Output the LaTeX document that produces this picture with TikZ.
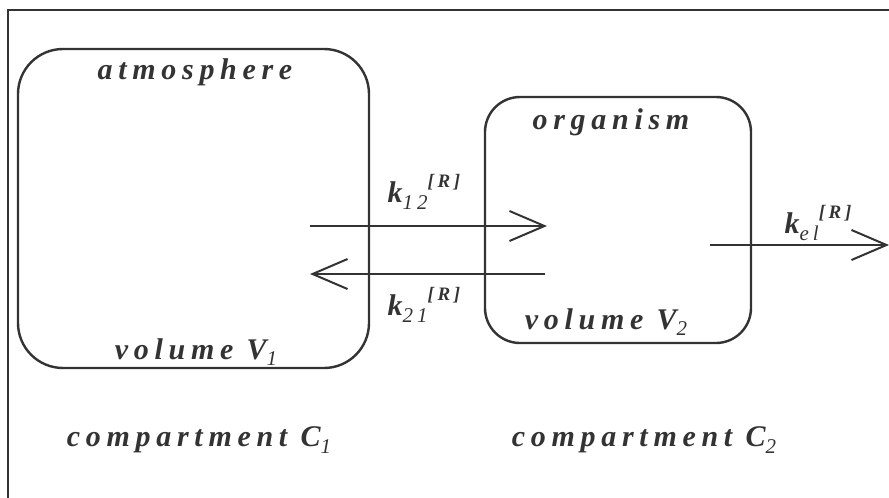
\documentclass[tikz,border=0pt]{standalone}
\usepackage{fontspec}
\setmainfont{Liberation Serif}
\newfontfamily\lblfont[LetterSpace=19]{Liberation Serif}
\usepackage{tikz}
\usetikzlibrary{positioning,calc,arrows.meta}
\definecolor{ink}{HTML}{333333}
\newcommand{\lo}[1]{\raisebox{-0.22em}{\fontsize{21}{21}\selectfont\mdseries #1}}
\newcommand{\hi}[1]{\raisebox{0.5em}{\fontsize{19}{19}\selectfont #1}}
\tikzset{
  comp/.style={draw=ink,line width=2.4pt,rounded corners=#1,inner sep=0pt},
  lbl/.style={text=ink,inner sep=0pt,font=\lblfont\fontsize{30}{32}\selectfont\bfseries\itshape},
  flow/.style={draw=ink,line width=2pt,-{Straight Barb[length=35pt,width=30pt,line width=2pt]}}
}
\begin{document}
\begin{tikzpicture}[x=1pt,y=-1pt]
  \useasboundingbox (0,0) rectangle (889,498);
  \draw[draw=ink,line width=1.3pt] (8,10) rectangle (900,510);
  % compartments
  \node[comp=45pt,minimum width=351pt,minimum height=319pt] (atm) at (193.5,208.5) {};
  \node[comp=35pt,minimum width=266pt,minimum height=246pt] (org) at (618,220) {};
  \node[lbl] (atmname) at (195,72) {atmosphere};
  \node[lbl] (vol1) at (196,352) {volume V\lo{1}};
  \node[lbl] (orgname) at (611,122) {organism};
  \node[lbl] (vol2) at (606,322) {volume V\lo{2}};
  \node[lbl] (c1) at (199,440) {compartment C\lo{1}};
  \node[lbl] (c2) at (644,440) {compartment C\lo{2}};
  % transfer rates
  \coordinate (a12s) at (310,226);
  \coordinate (a12e) at (547,226);
  \coordinate (a21s) at (545,274);
  \coordinate (a21e) at (310,274);
  \coordinate (aels) at (710,245);
  \coordinate (aele) at (889,245);
  \draw[flow] (a12s) -- (a12e);
  \draw[flow] (a21s) -- (a21e);
  \draw[flow] (aels) -- (aele);
  \node[lbl] (k12) at (424,192) {k\lo{12}\hi{[R]}};
  \node[lbl] (k21) at (424,305) {k\lo{21}\hi{[R]}};
  \node[lbl] (kel) at (818,223) {k\lo{el}\hi{[R]}};
\end{tikzpicture}
\end{document}
